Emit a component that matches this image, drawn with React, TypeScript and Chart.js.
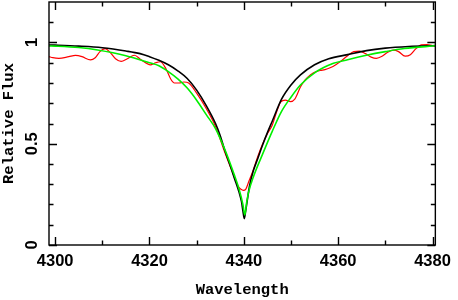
import React, { useEffect, useRef } from "react";
import { Chart, registerables } from "chart.js";

Chart.register(...registerables);

// Wavelength (Å) / relative flux readings
const blackWave = [4298.7, 4300, 4305, 4310, 4315, 4318, 4320, 4322, 4324, 4326, 4328, 4330, 4332, 4334, 4335, 4336, 4337, 4338, 4339, 4339.5, 4339.8, 4340.1, 4340.4, 4340.7, 4341.2, 4342, 4343, 4344, 4345, 4346, 4348, 4350, 4352, 4355, 4358, 4362, 4366, 4370, 4375, 4380.7];
const blackFlux = [0.988, 0.987, 0.982, 0.974, 0.958, 0.945, 0.93, 0.912, 0.89, 0.86, 0.822, 0.765, 0.69, 0.6, 0.54, 0.465, 0.4, 0.33, 0.26, 0.215, 0.17, 0.13, 0.17, 0.215, 0.29, 0.365, 0.43, 0.495, 0.555, 0.61, 0.72, 0.79, 0.84, 0.89, 0.92, 0.94, 0.96, 0.972, 0.98, 0.985];

const greenWave = [4298.7, 4300, 4305, 4309, 4315, 4320, 4322, 4324, 4326, 4328, 4330, 4332, 4334, 4336, 4338, 4339, 4339.8, 4340.2, 4340.6, 4341, 4342, 4344, 4346, 4348, 4350, 4352, 4355, 4359, 4362, 4366, 4370, 4374, 4380.7];
const greenFlux = [0.983, 0.982, 0.975, 0.963, 0.935, 0.9, 0.885, 0.856, 0.82, 0.775, 0.715, 0.645, 0.575, 0.47, 0.345, 0.275, 0.2, 0.148, 0.21, 0.26, 0.335, 0.45, 0.56, 0.66, 0.73, 0.79, 0.85, 0.897, 0.915, 0.937, 0.955, 0.97, 0.984];

const redWave = [4298.7, 4299.5, 4300.8, 4302.9, 4304.3, 4305.7, 4307.5, 4308.5, 4309.5, 4310.6, 4311.5, 4312.8, 4314, 4315.3, 4316.8, 4318.2, 4320.2, 4321.3, 4322.3, 4323.5, 4324.5, 4325.3, 4326.3, 4327.3, 4328.3, 4330, 4332, 4334, 4336, 4337, 4338, 4338.8, 4339.4, 4339.9, 4340.4, 4341, 4342, 4343, 4344, 4345, 4346, 4347, 4347.8, 4348.8, 4349.9, 4350.8, 4352, 4353, 4354.1, 4355.2, 4356.2, 4357.2, 4358.3, 4359.5, 4360.4, 4362, 4363.3, 4364.5, 4365.8, 4367, 4368.1, 4369.3, 4370.5, 4371.7, 4372.8, 4374.2, 4375.3, 4376.5, 4377.6, 4378.8, 4380, 4380.7];
const redFlux = [0.93, 0.925, 0.922, 0.93, 0.936, 0.93, 0.914, 0.925, 0.955, 0.97, 0.955, 0.92, 0.907, 0.92, 0.937, 0.915, 0.89, 0.9, 0.905, 0.87, 0.82, 0.8, 0.8, 0.805, 0.8, 0.75, 0.675, 0.585, 0.455, 0.395, 0.335, 0.29, 0.275, 0.27, 0.275, 0.31, 0.37, 0.44, 0.5, 0.55, 0.59, 0.66, 0.705, 0.715, 0.708, 0.72, 0.78, 0.815, 0.84, 0.855, 0.862, 0.866, 0.875, 0.89, 0.905, 0.935, 0.955, 0.957, 0.945, 0.928, 0.922, 0.932, 0.952, 0.962, 0.955, 0.933, 0.94, 0.97, 0.988, 0.99, 0.985, 0.98];

const xMajorTicks = [4300, 4320, 4340, 4360, 4380];
const xMinorTicks = [4310, 4330, 4350, 4370];
const yMajorTicks = [0, 0.5, 1];
const yMinorTicks = [0.1, 0.2, 0.3, 0.4, 0.6, 0.7, 0.8, 0.9, 1.1];
const xTitle = "Wavelength";
const yTitle = "Relative Flux";

const pts = (xs: number[], ys: number[]) => xs.map((x, i) => ({ x, y: ys[i] }));

const frameTicks = {
  id: "frameTicks",
  afterDatasetsDraw(chart: any) {
    const { ctx, chartArea: a, scales } = chart;
    const x = scales.x;
    const y = scales.y;
    ctx.save();
    ctx.strokeStyle = "#000";
    ctx.lineWidth = 1.4;
    ctx.strokeRect(a.left, a.top, a.right - a.left, a.bottom - a.top);
    ctx.beginPath();
    const xt = (vals: number[], L: number) => {
      for (const v of vals) {
        const p = Math.round(x.getPixelForValue(v)) + 0.5;
        ctx.moveTo(p, a.bottom);
        ctx.lineTo(p, a.bottom - L);
        ctx.moveTo(p, a.top);
        ctx.lineTo(p, a.top + L);
      }
    };
    const yt = (vals: number[], L: number) => {
      for (const v of vals) {
        const p = Math.round(y.getPixelForValue(v)) + 0.5;
        ctx.moveTo(a.left, p);
        ctx.lineTo(a.left + L, p);
        ctx.moveTo(a.right, p);
        ctx.lineTo(a.right - L, p);
      }
    };
    xt(xMajorTicks, 8);
    xt(xMinorTicks, 4.5);
    yt(yMajorTicks, 8);
    yt(yMinorTicks, 4.5);
    ctx.stroke();
    // rotated y tick labels
    ctx.fillStyle = "#000";
    ctx.font = "bold 16.5px 'Liberation Sans'";
    ctx.textAlign = "center";
    ctx.textBaseline = "middle";
    for (const v of yMajorTicks) {
      const p = y.getPixelForValue(v);
      ctx.save();
      ctx.translate(32.5, p);
      ctx.rotate(-Math.PI / 2);
      ctx.fillText(String(v), 0, 0);
      ctx.restore();
    }
    ctx.restore();
  },
};

export default function App() {
  const ref = useRef<HTMLCanvasElement>(null);
  useEffect(() => {
    const chart = new Chart(ref.current!, {
      type: "line",
      data: {
        datasets: [
          { data: pts(greenWave, greenFlux), borderColor: "#00f000", borderWidth: 1.6, pointRadius: 0, cubicInterpolationMode: "monotone" },
          { data: pts(blackWave, blackFlux), borderColor: "#000000", borderWidth: 1.6, pointRadius: 0, cubicInterpolationMode: "monotone" },
          { data: pts(redWave, redFlux), borderColor: "#ff0000", borderWidth: 1.2, pointRadius: 0, cubicInterpolationMode: "monotone" },
        ],
      },
      options: {
        animation: false,
        responsive: false,
        devicePixelRatio: 1,
        layout: { padding: { left: 0, right: 18, top: 2, bottom: 0 } },
        plugins: { legend: { display: false }, tooltip: { enabled: false } },
        scales: {
          x: {
            type: "linear",
            min: 4298.7,
            max: 4380.6,
            grid: { display: false, drawTicks: false },
            border: { display: false },
            afterBuildTicks: (s: any) => { s.ticks = xMajorTicks.map((v) => ({ value: v })); },
            afterFit: (s: any) => { s.height = 55; },
            ticks: { color: "#000", padding: 7, maxRotation: 0, minRotation: 0, font: { family: "'Liberation Sans'", size: 16.5, weight: "bold" }, callback: (v: any) => String(v) },
            title: { display: true, text: xTitle, color: "#000", padding: { top: 0, bottom: 1 }, font: { family: "'Liberation Mono'", size: 15.5, weight: "bold" } },
          },
          y: {
            type: "linear",
            min: 0,
            max: 1.2,
            grid: { display: false, drawTicks: false },
            border: { display: false },
            afterBuildTicks: (s: any) => { s.ticks = yMajorTicks.map((v) => ({ value: v })); },
            afterFit: (s: any) => { s.width = 49; },
            ticks: { display: false },
            title: { display: true, text: yTitle, color: "#000", padding: { top: 0, bottom: 0 }, font: { family: "'Liberation Mono'", size: 15.5, weight: "bold" } },
          },
        },
      },
      plugins: [frameTicks],
    });
    return () => chart.destroy();
  }, []);
  return (
    <div style={{ position: "fixed", left: 0, top: 0, width: 458, height: 300, background: "#fff" }}>
      <canvas ref={ref} width={458} height={300} style={{ width: 458, height: 300, display: "block" }} />
    </div>
  );
}
